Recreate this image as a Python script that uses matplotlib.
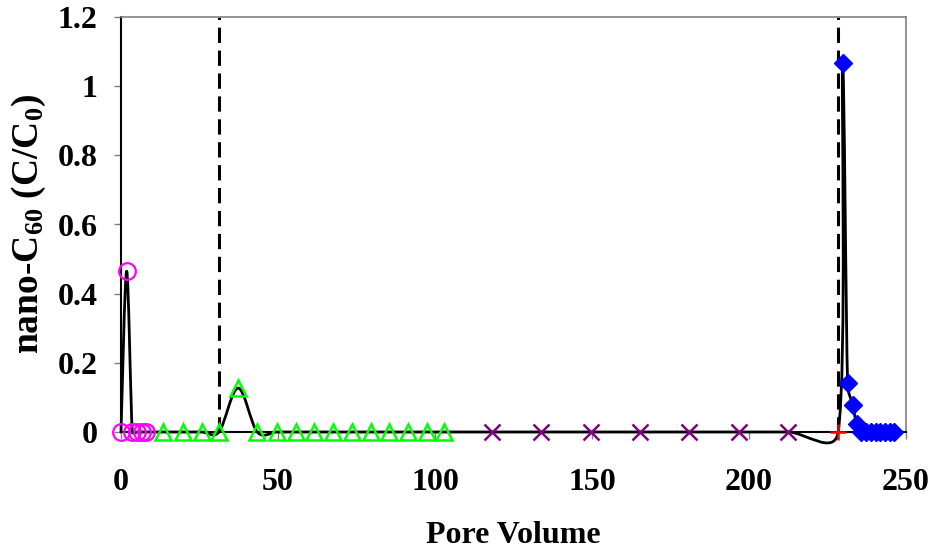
import numpy as np
import matplotlib
matplotlib.use("Agg")
import matplotlib.pyplot as plt
from matplotlib.path import Path
from matplotlib.patches import PathPatch

# ---- data ----
circ_x = [0.0, 1.8, 3.6, 5.2, 6.6, 8.1]
circ_y = [0.0, 0.465, 0.0, 0.0, 0.0, 0.0]
tri_x = [13.5, 19.6, 25.7, 31.2, 37.3, 43.4, 49.6, 55.6, 61.4, 67.6, 73.6,
         79.5, 85.4, 91.5, 97.3, 102.9]
tri_y = [0, 0, 0, 0, 0.127, 0, 0, 0, 0, 0, 0, 0, 0, 0, 0, 0]
xm_x = [118.0, 133.7, 149.6, 165.3, 181.0, 196.9, 212.5]
xm_y = [0, 0, 0, 0, 0, 0, 0]
plus_x = [228.4]
plus_y = [0.0]
dia_x = [229.8, 231.4, 233.0, 234.3, 235.8, 237.3, 238.8, 240.3, 241.8,
         243.3, 244.8, 246.3]
dia_y = [1.068, 0.141, 0.078, 0.023, 0, 0, 0, 0, 0, 0, 0, 0]
vlines_x = [31.2, 228.4]
x_ticks = [0, 50, 100, 150, 200, 250]
y_ticks = [0, 0.2, 0.4, 0.6, 0.8, 1.0, 1.2]
y_ticklabels = ["0", "0.2", "0.4", "0.6", "0.8", "1", "1.2"]

plt.rcParams['font.family'] = ['Liberation Serif', 'DejaVu Serif']
plt.rcParams['font.weight'] = 'bold'
plt.rcParams['mathtext.fontset'] = 'custom'
plt.rcParams['mathtext.rm'] = 'Liberation Serif:bold'
plt.rcParams['mathtext.bf'] = 'Liberation Serif:bold'
plt.rcParams['mathtext.it'] = 'Liberation Serif:bold'

W, H = 934, 552
fig = plt.figure(figsize=(W / 100, H / 100), dpi=100)
L, R, T, B = 121, 906, 17, 432
ax = fig.add_axes([L / W, 1 - B / H, (R - L) / W, (B - T) / H])
ax.set_xlim(0, 250)
ax.set_ylim(0, 1.2)

# spines
for s in ['top', 'right']:
    ax.spines[s].set_color('#808080')
    ax.spines[s].set_linewidth(1.2)
for s in ['left', 'bottom']:
    ax.spines[s].set_color('black')
    ax.spines[s].set_linewidth(1.5)

ax.set_xticks(x_ticks)
ax.set_xticklabels([str(v) for v in x_ticks])
ax.set_yticks(y_ticks)
ax.set_yticklabels(y_ticklabels)
ax.tick_params(axis='both', direction='out', length=5, width=1,
               color='#808080', labelsize=23)
ax.tick_params(axis='x', pad=21)
ax.tick_params(axis='y', pad=12)
for lab in ax.get_xticklabels() + ax.get_yticklabels():
    lab.set_fontweight('bold')

# dashed vertical lines
for xv in vlines_x:
    ax.plot([xv, xv], [0, 1.2], color='black', lw=2.2, dashes=(5, 2.5),
            zorder=2, clip_on=False)

# smoothed connecting line (Excel-like bezier, computed in display space)
all_x = circ_x + tri_x + xm_x + plus_x + dia_x
all_y = circ_y + tri_y + xm_y + plus_y + dia_y
P = ax.transData.transform(np.column_stack([all_x, all_y]))
n = len(P)
verts = [P[0]]
codes = [Path.MOVETO]
for i in range(n - 1):
    A = P[i - 1] if i > 0 else P[i]
    Bp = P[i]
    C = P[i + 1]
    D = P[i + 2] if i + 2 < n else P[i + 1]
    dBC = np.linalg.norm(C - Bp)
    t1 = C - A
    t2 = D - Bp
    n1 = np.linalg.norm(t1)
    n2 = np.linalg.norm(t2)
    f1 = 1 / 6
    if n1 > 0 and n1 / 6 > dBC / 2:
        f1 = dBC / (2 * n1)
    f2 = 1 / 6
    if n2 > 0 and n2 / 6 > dBC / 2:
        f2 = dBC / (2 * n2)
    c1 = Bp + f1 * t1
    c2 = C - f2 * t2
    verts += [c1, c2, C]
    codes += [Path.CURVE4] * 3
verts = ax.transData.inverted().transform(np.array(verts))
path = Path(verts, codes)
ax.add_patch(PathPatch(path, facecolor='none', edgecolor='black', lw=2.0,
                       zorder=3, clip_on=False, capstyle='round',
                       joinstyle='round'))

# markers
ax.plot(circ_x, circ_y, ls='none', marker='o', ms=12, mfc='none',
        mec='#FF00FF', mew=1.6, zorder=4, clip_on=False)
ax.plot(tri_x, tri_y, ls='none', marker='^', ms=12, mfc='none',
        mec='#00FF00', mew=1.8, zorder=4, clip_on=False)
ax.plot(xm_x, xm_y, ls='none', marker='x', ms=12, mec='#800080', mew=1.8,
        zorder=4, clip_on=False)
ax.plot(plus_x, plus_y, ls='none', marker='+', ms=12, mec='#FF0000', mew=1.8,
        zorder=4, clip_on=False)
ax.plot(dia_x, dia_y, ls='none', marker='D', ms=9.5, mfc='#0000FF',
        mec='#0000FF', mew=1, zorder=5, clip_on=False)

ax.set_xlabel('Pore Volume', fontsize=23, fontweight='bold', labelpad=17)
ax.set_ylabel(r'nano-C$_{60}$ (C/C$_{0}$)', fontsize=27, fontweight='bold',
              labelpad=7)

fig.savefig('out.png', dpi=100)
